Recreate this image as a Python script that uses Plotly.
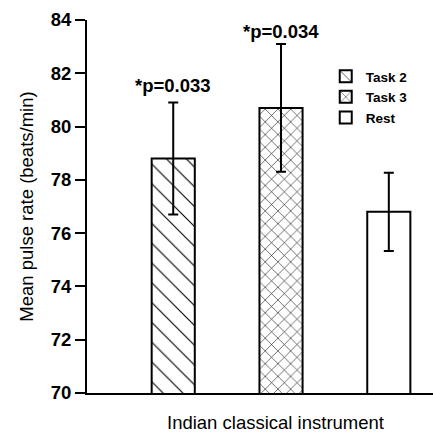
import plotly.graph_objects as go

groups = ["Task 2", "Task 3", "Rest"]
means = [78.8, 80.7, 76.8]
errors = [2.1, 2.4, 1.47]
patterns = ["\\", "x", ""]
pattern_sizes = [14, 9, 10]
pattern_solidity = [0.08, 0.12, 0.1]
pvalues = ["*p=0.033", "*p=0.034", None]
pvalue_y = [81.55, 83.55, None]
yticks = [70, 72, 74, 76, 78, 80, 82, 84]

FONT = "Liberation Sans, Arial"

fig = go.Figure()
for i, g in enumerate(groups):
    fig.add_trace(go.Bar(
        x=[i], y=[means[i]], name=g, width=0.4,
        marker=dict(color="white", line=dict(color="black", width=2),
                    pattern=dict(shape=patterns[i], fgcolor="black", bgcolor="white",
                                 fgopacity=1, size=pattern_sizes[i], solidity=pattern_solidity[i],
                                 fillmode="overlay")),
        error_y=dict(type="data", array=[errors[i]], visible=True,
                     color="black", thickness=2, width=5),
    ))
    if pvalues[i]:
        fig.add_annotation(x=i, y=pvalue_y[i], text=pvalues[i], showarrow=False,
                           font=dict(family=FONT, size=18.5, color="black", weight="bold"),
                           xanchor="center", yanchor="middle")

fig.add_annotation(xref="paper", yref="paper", x=0.546, y=-0.078,
                   text="Indian classical instrument", showarrow=False,
                   xanchor="center", yanchor="middle",
                   font=dict(family=FONT, size=18.5, color="black"))

fig.update_layout(
    width=433, height=432,
    margin=dict(l=87, r=0, t=20, b=39),
    plot_bgcolor="white", paper_bgcolor="white",
    barmode="overlay",
    showlegend=True,
    legend=dict(x=0.69, y=0.89, xanchor="left", yanchor="top",
                font=dict(family=FONT, size=13.5, color="black", weight="bold"),
                bgcolor="rgba(0,0,0,0)", tracegroupgap=0, itemwidth=30),
    font=dict(family=FONT, color="black"),
)
fig.update_xaxes(range=[-0.8, 2.41], showticklabels=False, ticks="",
                 showline=True, linecolor="black", linewidth=2, showgrid=False, zeroline=False)
fig.update_yaxes(range=[70, 84], tickvals=yticks, ticks="outside", ticklen=10, tickwidth=2,
                 tickcolor="black", showline=True, linecolor="black", linewidth=2,
                 showgrid=False, zeroline=False,
                 tickfont=dict(family=FONT, size=18.5, weight="bold", color="black"),
                 title=dict(text="Mean pulse rate (beats/min)", font=dict(family=FONT, size=18.5), standoff=12))

fig.write_html("out.html")
